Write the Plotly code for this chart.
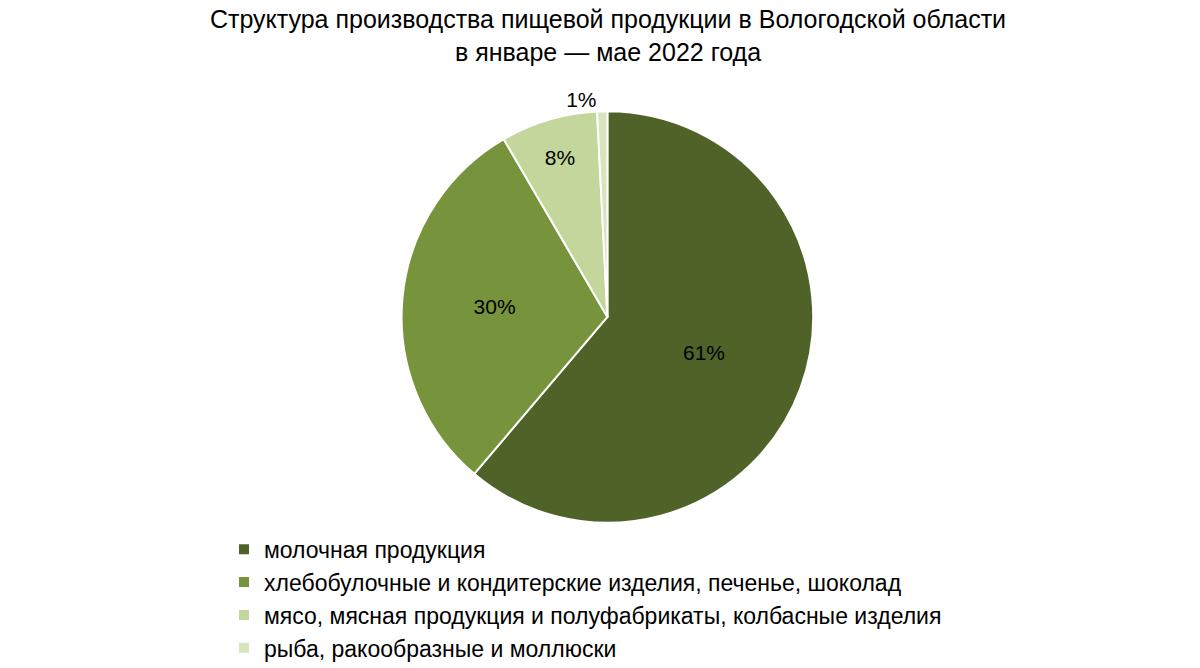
import plotly.graph_objects as go

categories = [
    "молочная продукция",
    "хлебобулочные и кондитерские изделия, печенье, шоколад",
    "мясо, мясная продукция и полуфабрикаты, колбасные изделия",
    "рыба, ракообразные и моллюски",
]
shares = [61.2, 30.4, 7.6, 0.8]
colors = ["#4F6228", "#77933C", "#C3D69B", "#D7E4BD"]

fig = go.Figure(go.Pie(
    labels=categories,
    values=shares,
    sort=False,
    direction="clockwise",
    rotation=0,
    marker=dict(colors=colors, line=dict(color="white", width=2)),
    texttemplate="%{percent:.0%}",
    textposition=["inside", "inside", "inside", "outside"],
    insidetextorientation="horizontal",
    textfont=dict(size=21, color="black"),
    domain=dict(x=[0.328, 0.671], y=[0.229, 0.846]),
    hoverinfo="label+percent",
))

fig.update_layout(
    width=1200, height=668,
    paper_bgcolor="white",
    font=dict(family="Liberation Sans, Arial, sans-serif", color="black"),
    margin=dict(l=0, r=0, t=0, b=0),
    title=dict(
        text="Структура производства пищевой продукции в Вологодской области<br>в январе — мае 2022 года",
        x=0.5, xanchor="center", y=0.97, yanchor="top",
        font=dict(size=25),
    ),
    legend=dict(
        x=0.18, xanchor="left", y=0.222, yanchor="top",
        font=dict(size=23), itemwidth=30, tracegroupgap=0,
    ),
)

fig.write_html("out.html")
